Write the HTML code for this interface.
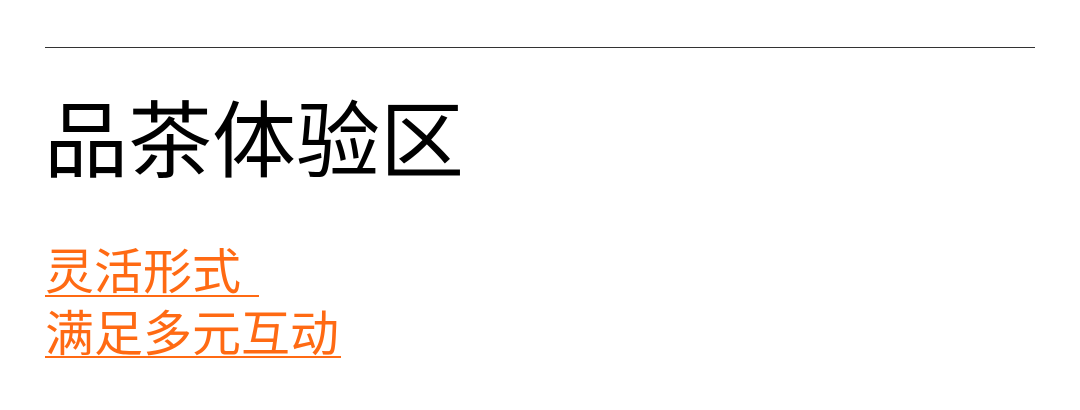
<!DOCTYPE html>
<html><head><meta charset="utf-8"><style>
html,body{margin:0;padding:0;background:#fff;width:1080px;height:410px;overflow:hidden;position:relative}
.f{font-family:"Liberation Sans","Noto Sans CJK SC",sans-serif;position:absolute;white-space:nowrap;line-height:1}
.hr{position:absolute;left:45px;top:47px;width:990px;height:1px;background:#333}
.t{left:44px;top:100px;font-size:84px;color:#000}
.o{left:45px;font-size:49px;color:#ff6a13}
.u{position:absolute;left:45px;height:2px;background:#ff6a13}
</style></head><body>
<div class="hr"></div>
<div class="f t">品茶体验区</div>
<div class="f o" style="top:249px">灵活形式</div>
<div class="u" style="top:295px;width:214px"></div>
<div class="f o" style="top:311px">满足多元互动</div>
<div class="u" style="top:356px;width:296px"></div>
</body></html>
